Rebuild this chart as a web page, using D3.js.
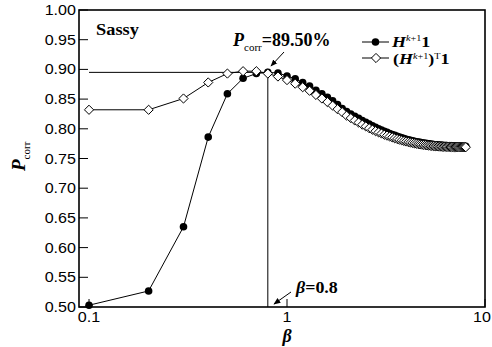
<!DOCTYPE html>
<html>
<head>
<meta charset="utf-8">
<script src="https://cdn.jsdelivr.net/npm/d3@7"></script>
<style>
  body { margin: 0; background: #fff; }
  text { fill: #000; }
  .tick { font-family: "Liberation Sans", Arial, sans-serif; font-size: 14px; }
  .serif { font-family: "Liberation Serif", "Times New Roman", serif; font-weight: bold; }
</style>
</head>
<body>
<script>
// beta values (x), step 0.1 from 0.1 to 8.0
var betas = [0.1, 0.2, 0.3, 0.4, 0.5, 0.6, 0.7, 0.8, 0.9, 1.0,
             1.1, 1.2, 1.3, 1.4, 1.5, 1.6, 1.7, 1.8, 1.9, 2.0,
             2.1, 2.2, 2.3, 2.4, 2.5, 2.6, 2.7, 2.8, 2.9, 3.0,
             3.1, 3.2, 3.3, 3.4, 3.5, 3.6, 3.7, 3.8, 3.9, 4.0,
             4.1, 4.2, 4.3, 4.4, 4.5, 4.6, 4.7, 4.8, 4.9, 5.0,
             5.1, 5.2, 5.3, 5.4, 5.5, 5.6, 5.7, 5.8, 5.9, 6.0,
             6.1, 6.2, 6.3, 6.4, 6.5, 6.6, 6.7, 6.8, 6.9, 7.0,
             7.1, 7.2, 7.3, 7.4, 7.5, 7.6, 7.7, 7.8, 7.9, 8.0];

// H^(k+1) 1  (filled circles)
var pcorrH = [0.503, 0.527, 0.635, 0.786, 0.859, 0.885, 0.893, 0.895, 0.894, 0.889,
              0.884, 0.878, 0.872, 0.865, 0.859, 0.853, 0.847, 0.841, 0.834, 0.829,
              0.825, 0.821, 0.8175, 0.814, 0.811, 0.808, 0.805, 0.8025, 0.800, 0.798,
              0.796, 0.794, 0.792, 0.7905, 0.789, 0.7875, 0.786, 0.7848, 0.7836, 0.7825,
              0.7815, 0.7806, 0.7798, 0.779, 0.7783, 0.7777, 0.7771, 0.7765, 0.776, 0.7755,
              0.775, 0.7746, 0.7742, 0.7738, 0.7735, 0.7732, 0.7729, 0.7727, 0.7725, 0.7723,
              0.7721, 0.7719, 0.7718, 0.7716, 0.7715, 0.7714, 0.7713, 0.7712, 0.7711, 0.7710,
              0.7709, 0.7709, 0.7708, 0.7708, 0.7707, 0.7707, 0.7706, 0.7706, 0.7705, 0.7705];

// (H^(k+1))^T 1  (open diamonds)
var pcorrHT = [0.832, 0.832, 0.851, 0.878, 0.893, 0.897, 0.897, 0.893, 0.888, 0.882,
               0.876, 0.870, 0.864, 0.857, 0.851, 0.845, 0.839, 0.833, 0.828, 0.822,
               0.818, 0.814, 0.8105, 0.807, 0.804, 0.801, 0.7985, 0.796, 0.794, 0.792,
               0.790, 0.7885, 0.787, 0.7855, 0.784, 0.7828, 0.7816, 0.7805, 0.7795, 0.7786,
               0.7777, 0.7769, 0.7762, 0.7755, 0.7749, 0.7743, 0.7738, 0.7733, 0.7729, 0.7725,
               0.7721, 0.7718, 0.7715, 0.7712, 0.7709, 0.7707, 0.7705, 0.7703, 0.7701, 0.7700,
               0.7699, 0.7698, 0.7697, 0.7696, 0.7695, 0.7695, 0.7694, 0.7694, 0.7693, 0.7693,
               0.7692, 0.7692, 0.7692, 0.7691, 0.7691, 0.7691, 0.7691, 0.7690, 0.7690, 0.7690];

var yTicks = [0.50, 0.55, 0.60, 0.65, 0.70, 0.75, 0.80, 0.85, 0.90, 0.95, 1.00];
var xTicks = [0.1, 1, 10];
var xTickLabels = ["0.1", "1", "10"];

var bestBeta = 0.8;
var bestPcorr = 0.895;

var width = 492, height = 347;
var svg = d3.select("body").append("svg").attr("width", width).attr("height", height);

var x = d3.scaleLog().domain([0.089, 10]).range([79, 485]);
var y = d3.scaleLinear().domain([0.5, 1.0]).range([307, 10]);

// stretched text helper (reference glyphs are a bit wide)
function stext(g, px, py, sx) {
    return g.append("text").attr("transform", "translate(" + px + "," + py + ") scale(" + sx + ",1)");
}

// y ticks, inward
svg.append("g").selectAll("line")
   .data(yTicks)
   .enter().append("line")
   .attr("x1", x.range()[0]).attr("x2", x.range()[0] + 9)
   .attr("y1", function (d) { return y(d); })
   .attr("y2", function (d) { return y(d); })
   .attr("stroke", "#000").attr("stroke-width", 1);

var yl = svg.append("g").attr("class", "tick");
yTicks.forEach(function (d) {
    stext(yl, x.range()[0] - 3, y(d) + 5, 1.15).attr("text-anchor", "end").text(d3.format(".2f")(d));
});

// x ticks, inward
svg.append("g").selectAll("line")
   .data(xTicks)
   .enter().append("line")
   .attr("x1", function (d) { return x(d); })
   .attr("x2", function (d) { return x(d); })
   .attr("y1", y.range()[0]).attr("y2", y.range()[0] - 8)
   .attr("stroke", "#000").attr("stroke-width", 1);

var xl = svg.append("g").attr("class", "tick");
xTicks.forEach(function (d, i) {
    stext(xl, x(d) - (i === 2 ? 3 : 0), y.range()[0] + 15, 1.15).attr("text-anchor", "middle").text(xTickLabels[i]);
});

// reference lines at the optimum
svg.append("line")
   .attr("x1", x(0.1)).attr("x2", x(bestBeta))
   .attr("y1", y(bestPcorr)).attr("y2", y(bestPcorr))
   .attr("stroke", "#000").attr("stroke-width", 1);
svg.append("line")
   .attr("x1", x(bestBeta)).attr("x2", x(bestBeta))
   .attr("y1", y(bestPcorr)).attr("y2", y.range()[0])
   .attr("stroke", "#000").attr("stroke-width", 1);

var line = d3.line()
             .x(function (d) { return x(d[0]); })
             .y(function (d) { return y(d[1]); });

var dataH = betas.map(function (b, i) { return [b, pcorrH[i]]; });
var dataHT = betas.map(function (b, i) { return [b, pcorrHT[i]]; });

var diamond = "M0,-4.6L4.6,0L0,4.6L-4.6,0Z";

svg.append("path").datum(dataH).attr("d", line)
   .attr("fill", "none").attr("stroke", "#000").attr("stroke-width", 1);
svg.append("g").selectAll("circle")
   .data(dataH)
   .enter().append("circle")
   .attr("cx", function (d) { return x(d[0]); })
   .attr("cy", function (d) { return y(d[1]); })
   .attr("r", 3.8)
   .attr("fill", "#000");

svg.append("path").datum(dataHT).attr("d", line)
   .attr("fill", "none").attr("stroke", "#000").attr("stroke-width", 1);
svg.append("g").selectAll("path")
   .data(dataHT)
   .enter().append("path")
   .attr("d", diamond)
   .attr("transform", function (d) { return "translate(" + x(d[0]) + "," + y(d[1]) + ")"; })
   .attr("fill", "#fff")
   .attr("stroke", "#000")
   .attr("stroke-width", 1);

// frame
svg.append("rect")
   .attr("x", x.range()[0]).attr("y", y.range()[1])
   .attr("width", x.range()[1] - x.range()[0])
   .attr("height", y.range()[0] - y.range()[1])
   .attr("fill", "none").attr("stroke", "#000").attr("stroke-width", 1.6);

// panel title
stext(svg, 96, 35, 1.08).attr("class", "serif").attr("font-size", 17).text("Sassy");

// legend
var lg = svg.append("g");
lg.append("line").attr("x1", 362).attr("x2", 389).attr("y1", 42).attr("y2", 42).attr("stroke", "#000");
lg.append("circle").attr("cx", 375.5).attr("cy", 42).attr("r", 3.8).attr("fill", "#000");
lg.append("line").attr("x1", 362).attr("x2", 389).attr("y1", 58).attr("y2", 58).attr("stroke", "#000");
lg.append("path").attr("d", diamond).attr("transform", "translate(376,58)")
  .attr("fill", "#fff").attr("stroke", "#000");

var t1 = stext(lg, 392, 46.5, 1.2).attr("class", "serif").attr("font-size", 15);
t1.append("tspan").attr("font-style", "italic").text("H");
t1.append("tspan").attr("font-size", 8.5).attr("dy", -6).attr("font-weight", "normal")
  .html("<tspan font-style='italic'>k</tspan>+1");
t1.append("tspan").attr("dy", 6).text("1");

var t2 = stext(lg, 393, 64, 1.2).attr("class", "serif").attr("font-size", 15);
t2.append("tspan").text("(");
t2.append("tspan").attr("font-style", "italic").text("H");
t2.append("tspan").attr("font-size", 8.5).attr("dy", -5).attr("font-weight", "normal")
  .html("<tspan font-style='italic'>k</tspan>+1");
t2.append("tspan").attr("dy", 5).text(")");
t2.append("tspan").attr("font-size", 8.5).attr("dy", -5).attr("font-weight", "normal").text("T");
t2.append("tspan").attr("dy", 5).text("1");

// arrow marker
svg.append("defs").append("marker")
   .attr("id", "arrow").attr("viewBox", "0 0 10 10")
   .attr("refX", 9).attr("refY", 5)
   .attr("markerWidth", 7).attr("markerHeight", 7)
   .attr("orient", "auto-start-reverse")
   .append("path").attr("d", "M0,1L10,5L0,9Z").attr("fill", "#000");

// P_corr annotation
var a1 = svg.append("text").attr("class", "serif").attr("x", 233).attr("y", 46).attr("font-size", 18);
a1.append("tspan").attr("font-style", "italic").text("P");
a1.append("tspan").attr("font-size", 11).attr("font-weight", "normal").attr("dy", 5).text("corr");
a1.append("tspan").attr("dy", -5).text("=" + d3.format(".2%")(bestPcorr));
svg.append("line")
   .attr("x1", 284).attr("y1", 52).attr("x2", 271).attr("y2", 66)
   .attr("stroke", "#000").attr("stroke-width", 1)
   .attr("marker-end", "url(#arrow)");

// beta annotation
var a2 = stext(svg, 296, 293, 1.12).attr("class", "serif").attr("font-size", 16);
a2.append("tspan").attr("font-style", "italic").text("β");
a2.append("tspan").text("=" + bestBeta);
svg.append("line")
   .attr("x1", 291).attr("y1", 292).attr("x2", 274).attr("y2", 304)
   .attr("stroke", "#000").attr("stroke-width", 1)
   .attr("marker-end", "url(#arrow)");

// axis titles
svg.append("text").attr("class", "serif").attr("font-style", "italic").attr("font-size", 18)
   .attr("x", 287).attr("y", 342).attr("text-anchor", "middle").text("β");

var yt = svg.append("text").attr("class", "serif").attr("font-size", 19)
            .attr("transform", "translate(25,171) rotate(-90)");
yt.append("tspan").attr("font-style", "italic").text("P");
yt.append("tspan").attr("font-size", 11).attr("font-weight", "normal").attr("dy", 5).text("corr");
</script>
</body>
</html>
